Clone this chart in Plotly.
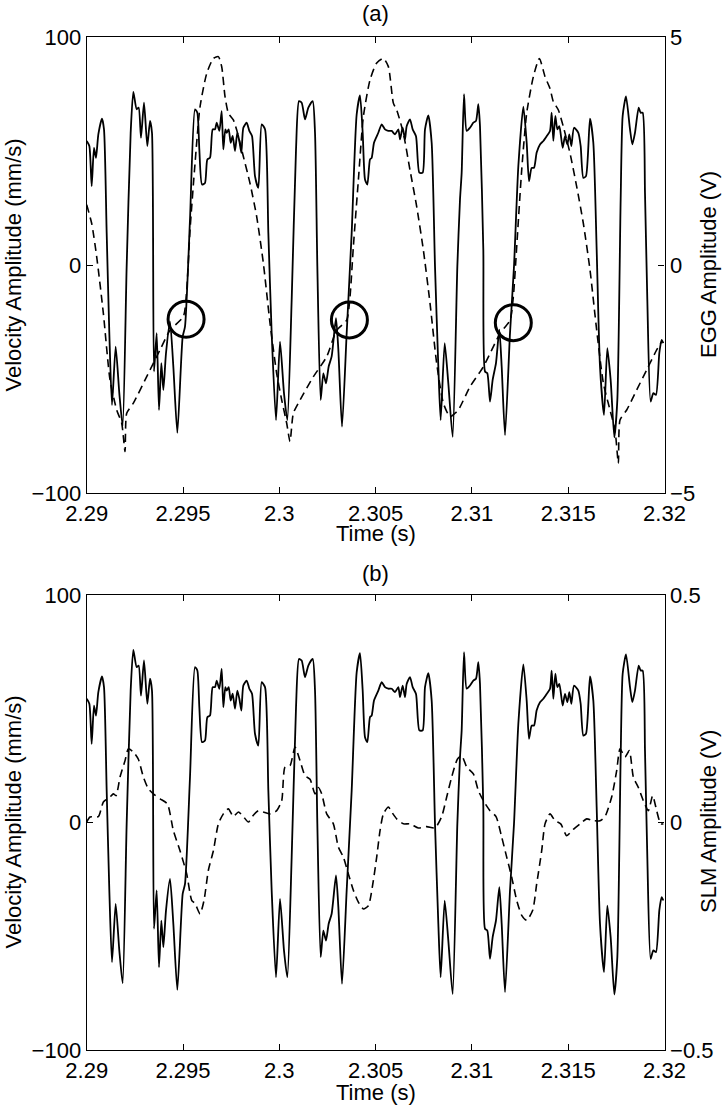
import plotly.graph_objects as go

# ---------------- data (time offsets in ms from 2.29 s) ----------------
T0 = 2.29

vel_t_ms = [
    0.000, 0.137, 0.258, 0.379, 0.483, 0.604, 0.794, 0.898, 1.037, 1.175,
    1.313, 1.504, 1.694, 1.867, 2.075, 2.283, 2.421, 2.594, 2.698, 2.819,
    2.975, 3.148, 3.287, 3.390, 3.494, 3.633, 3.754, 3.875, 3.979, 4.117,
    4.325, 4.498, 4.706, 4.983, 5.104, 5.363, 5.623, 5.744, 5.848, 5.987,
    6.142, 6.264, 6.402, 6.540, 6.662, 6.748, 6.887, 7.008, 7.094, 7.198,
    7.267, 7.371, 7.475, 7.579, 7.700, 7.821, 7.925, 8.029, 8.133, 8.306,
    8.444, 8.583, 8.738, 8.911, 9.085, 9.258, 9.431, 9.604, 9.829, 10.037,
    10.244, 10.417, 10.643, 10.868, 11.023, 11.162, 11.335, 11.508, 11.733, 11.854,
    11.975, 12.148, 12.287, 12.425, 12.564, 12.719, 12.944, 13.066, 13.256, 13.498,
    13.758, 14.017, 14.190, 14.329, 14.450, 14.571, 14.709, 14.796, 14.917, 15.141,
    15.315, 15.488, 15.661, 15.834, 16.007, 16.180, 16.267, 16.405, 16.527, 16.613,
    16.786, 16.925, 17.098, 17.271, 17.444, 17.565, 17.738, 17.911, 18.084, 18.257,
    18.378, 18.586, 18.776, 19.001, 19.244, 19.382, 19.469, 19.590, 19.728, 19.901,
    20.074, 20.213, 20.334, 20.420, 20.593, 20.680, 20.801, 20.940, 21.078, 21.251,
    21.424, 21.546, 21.719, 21.978, 22.186, 22.411, 22.671, 22.844, 22.965, 23.103,
    23.224, 23.363, 23.536, 23.709, 23.882, 24.055, 24.142, 24.228, 24.332, 24.436,
    24.540, 24.713, 24.834, 24.955, 25.059, 25.163, 25.301, 25.526, 25.647, 25.786,
    25.924, 26.132, 26.305, 26.478, 26.651, 26.859, 27.031, 27.204, 27.395, 27.551,
    27.724, 27.828, 28.001, 28.209, 28.330, 28.468, 28.659, 28.762, 28.866, 28.987,
    29.108, 29.281, 29.420, 29.558, 29.731, 29.852, 29.939,
]
vel_v = [
    54.4, 52.2, 34.6, 51.4, 47.0, 57.3, 64.2, 59.5, 14.1, -29.9,
    -61.4, -35.8, -56.3, -70.6, -0.6, 58.0, 75.9, 68.3, 69.0, 55.8,
    71.2, 52.2, 63.2, 58.0, -46.7, -29.9, -63.6, -43.1, -54.8, -38.7,
    -24.8, -44.5, -73.6, -31.4, -27.0, 19.9, 68.3, 66.8, 50.7, 35.3,
    36.0, 46.3, 47.0, 59.5, 59.5, 62.4, 58.8, 67.5, 50.7, 59.5,
    58.0, 59.5, 53.6, 56.6, 50.0, 58.0, 54.4, 49.2, 60.2, 62.4,
    58.8, 56.6, 39.0, 33.8, 61.7, 59.5, 14.1, -29.9, -68.0, -33.6,
    -56.3, -68.0, -15.2, 50.7, 71.9, 71.2, 63.9, 69.0, 71.9, 58.0,
    -0.6, -59.2, -47.5, -51.9, -44.5, -40.1, -23.3, -37.2, -70.9, -29.9,
    14.1, 66.0, 74.4, 58.0, 37.5, 35.3, 46.3, 47.0, 53.6, 58.0,
    61.7, 59.5, 58.8, 58.8, 57.3, 59.5, 55.1, 60.2, 55.1, 60.9,
    63.9, 59.5, 56.5, 40.5, 40.5, 59.5, 65.6, 53.6, -0.6, -44.5,
    -68.0, -34.3, -51.9, -75.4, -0.6, 28.7, 40.5, 74.9, 58.8, 60.2,
    62.4, 63.2, 70.5, 60.9, 6.7, -46.7, -47.5, -59.9, -50.4, -43.0,
    -28.4, -44.5, -74.6, -29.9, -0.6, 43.4, 69.5, 53.6, 36.8, 42.6,
    42.6, 49.3, 52.9, 54.4, 56.5, 58.8, 66.8, 54.4, 65.4, 59.5,
    60.9, 51.4, 56.5, 52.9, 57.3, 52.2, 60.2, 58.0, 52.2, 38.2,
    39.0, 64.2, 53.6, 6.7, -44.5, -65.8, -36.5, -50.4, -75.6, -59.2,
    28.7, 65.4, 73.9, 59.5, 52.9, 58.0, 69.0, 66.8, 66.8, 31.6,
    -15.2, -59.9, -56.2, -57.0, -38.6, -32.8, -34.3,
]

egg_t_ms = [
    0.000, 0.260, 0.519, 0.865, 1.211, 1.558, 1.817, 1.990, 2.077, 2.423,
    3.115, 3.808, 4.327, 5.019, 5.192, 5.365, 5.625, 5.884, 6.231, 6.577,
    6.836, 7.009, 7.182, 7.355, 7.615, 7.788, 8.134, 8.480, 8.826, 9.172,
    9.519, 9.865, 10.125, 10.384, 10.557, 10.730, 11.076, 11.768, 12.461, 12.980,
    13.499, 13.672, 13.845, 14.105, 14.364, 14.711, 15.057, 15.403, 15.663, 15.922,
    16.095, 16.441, 16.787, 17.134, 17.480, 17.826, 18.172, 18.518, 18.864, 19.124,
    19.297, 19.903, 20.595, 21.114, 21.461, 21.980, 22.153, 22.326, 22.585, 22.845,
    23.191, 23.503, 23.797, 24.056, 24.229, 24.489, 24.749, 25.095, 25.441, 25.787,
    26.133, 26.479, 26.825, 27.171, 27.431, 27.604, 27.690, 28.037, 28.556, 29.075,
    29.594, 29.854,
]
egg_v = [
    1.32, 0.91, 0.18, -1.06, -2.52, -3.18, -3.47, -4.09, -3.25, -3.03,
    -2.45, -1.86, -1.43, -1.13, -0.55, 0.77, 2.23, 3.47, 4.20, 4.53,
    4.57, 4.35, 3.69, 3.33, 3.18, 2.96, 2.38, 1.79, 1.06, 0.04,
    -1.28, -2.38, -2.96, -3.47, -3.87, -3.25, -2.96, -2.45, -2.01, -1.43,
    -1.21, -0.69, 0.40, 1.86, 3.25, 4.06, 4.43, 4.53, 4.35, 3.55,
    3.40, 2.89, 2.08, 1.28, 0.33, -0.84, -2.16, -3.03, -3.33, -3.25,
    -3.18, -2.67, -2.23, -1.79, -1.50, -1.21, -0.69, 0.40, 2.08, 3.33,
    4.13, 4.53, 4.13, 3.87, 3.58, 3.40, 3.03, 2.45, 1.72, 0.91,
    -0.11, -1.43, -2.59, -3.18, -3.62, -4.35, -3.40, -3.18, -2.74, -2.30,
    -1.86, -1.68,
]

slm_t_ms = [
    0.000, 0.173, 0.606, 0.865, 1.211, 1.384, 1.523, 1.731, 1.990, 2.163,
    2.423, 2.683, 2.942, 3.202, 3.461, 3.808, 4.188, 4.500, 4.846, 5.192,
    5.452, 5.625, 5.884, 6.092, 6.317, 6.577, 6.836, 7.096, 7.355, 7.615,
    7.875, 8.134, 8.394, 8.653, 8.913, 9.172, 9.519, 9.865, 10.125, 10.298,
    10.557, 10.817, 11.076, 11.336, 11.596, 11.855, 12.028, 12.201, 12.461, 12.807,
    13.066, 13.326, 13.586, 13.845, 14.105, 14.364, 14.624, 14.884, 15.057, 15.230,
    15.403, 15.663, 15.836, 16.095, 16.441, 16.787, 17.220, 17.653, 18.085, 18.431,
    18.691, 18.951, 19.245, 19.470, 19.730, 20.076, 20.335, 20.595, 20.941, 21.253,
    21.547, 21.807, 22.066, 22.326, 22.586, 22.845, 23.157, 23.364, 23.624, 23.797,
    24.056, 24.316, 24.611, 24.922, 25.268, 25.614, 25.960, 26.306, 26.652, 26.911,
    27.257, 27.517, 27.690, 27.950, 28.175, 28.382, 28.642, 28.902, 29.161, 29.386,
    29.593, 29.801, 29.940,
]
slm_v = [
    0.001, 0.012, 0.013, 0.045, 0.056, 0.063, 0.059, 0.100, 0.136, 0.162,
    0.155, 0.139, 0.100, 0.074, 0.063, 0.052, 0.041, -0.018, -0.062, -0.113,
    -0.171, -0.178, -0.201, -0.171, -0.105, -0.062, -0.003, 0.019, 0.030, 0.013,
    0.023, 0.013, 0.001, 0.016, 0.026, 0.023, 0.019, 0.026, 0.048, 0.122,
    0.125, 0.166, 0.136, 0.103, 0.095, 0.063, 0.077, 0.063, 0.019, -0.003,
    -0.054, -0.076, -0.113, -0.149, -0.175, -0.190, -0.183, -0.127, -0.076, -0.018,
    0.019, 0.034, 0.023, 0.008, -0.003, -0.003, -0.012, -0.009, -0.012, 0.013,
    0.056, 0.100, 0.139, 0.147, 0.122, 0.107, 0.070, 0.048, 0.026, 0.013,
    -0.032, -0.076, -0.120, -0.171, -0.204, -0.215, -0.193, -0.135, -0.062, -0.003,
    0.019, 0.004, -0.003, -0.029, -0.015, -0.003, 0.008, 0.004, 0.004, 0.013,
    0.056, 0.114, 0.162, 0.144, 0.158, 0.100, 0.077, 0.048, 0.026, 0.059,
    0.026, -0.003, -0.003,
]

# circled glottal-closure instants (panel a, velocity axis units)
circle_t = [2.29516, 2.30364, 2.31215]
circle_v = [-23.8, -24.1, -25.3]

x_tick_vals = [2.29, 2.295, 2.30, 2.305, 2.31, 2.315, 2.32]
x_tick_text = ["2.29", "2.295", "2.3", "2.305", "2.31", "2.315", "2.32"]
vel_ticks = [-100, 0, 100]
egg_ticks = [-5, 0, 5]
slm_ticks = [-0.5, 0, 0.5]

# ---------------- figure ----------------
W, H = 724, 1106
FONT = "Liberation Sans, Arial, Helvetica, sans-serif"
FS = 22

vel_t = [T0 + v / 1000.0 for v in vel_t_ms]
egg_t = [T0 + v / 1000.0 for v in egg_t_ms]
slm_t = [T0 + v / 1000.0 for v in slm_t_ms]

def fx(p):
    return p / W

def fy(p):
    return 1 - p / H

fig = go.Figure()
solid = dict(color="black", width=1.8, shape="spline", smoothing=0.6)
dashed = dict(color="black", width=1.6, dash="8px,5px", shape="spline", smoothing=0.6)

fig.add_trace(go.Scatter(x=vel_t, y=vel_v, mode="lines", line=solid, xaxis="x", yaxis="y"))
fig.add_trace(go.Scatter(x=egg_t, y=egg_v, mode="lines", line=dashed, xaxis="x", yaxis="y2"))
fig.add_trace(go.Scatter(x=circle_t, y=circle_v, mode="markers", xaxis="x", yaxis="y",
                         marker=dict(symbol="circle-open", size=36, color="black",
                                     line=dict(width=3, color="black"))))
fig.add_trace(go.Scatter(x=vel_t, y=vel_v, mode="lines", line=solid, xaxis="x2", yaxis="y3"))
fig.add_trace(go.Scatter(x=slm_t, y=slm_v, mode="lines", line=dashed, xaxis="x2", yaxis="y4"))

tickfont = dict(family=FONT, size=FS, color="black")
base = dict(showgrid=False, zeroline=False, showline=True, linecolor="black", linewidth=1.3,
            ticks="inside", ticklen=6, tickwidth=1.2, tickcolor="black", tickfont=tickfont,
            automargin=False)

xdom = [fx(86.7), fx(664.5)]
ydom_a = [fy(493), fy(37)]
ydom_b = [fy(1050), fy(595)]

fig.update_layout(
    width=W, height=H,
    margin=dict(l=0, r=0, t=0, b=0, autoexpand=False),
    paper_bgcolor="white", plot_bgcolor="white",
    showlegend=False,
    xaxis=dict(base, domain=xdom, anchor="y", range=[2.29, 2.32], tickvals=x_tick_vals,
               ticktext=x_tick_text, mirror="ticks"),
    yaxis=dict(base, domain=ydom_a, anchor="x", range=[-100, 100], tickvals=vel_ticks),
    yaxis2=dict(base, overlaying="y", side="right", anchor="x", range=[-5, 5], tickvals=egg_ticks),
    xaxis2=dict(base, domain=xdom, anchor="y3", range=[2.29, 2.32], tickvals=x_tick_vals,
                ticktext=x_tick_text, mirror="ticks"),
    yaxis3=dict(base, domain=ydom_b, anchor="x2", range=[-100, 100], tickvals=vel_ticks),
    yaxis4=dict(base, overlaying="y3", side="right", anchor="x2", range=[-0.5, 0.5],
                tickvals=slm_ticks),
)

tf = dict(family=FONT, size=FS, color="black")
xc = fx((86.7 + 664.5) / 2)
ann = [
    dict(text="(a)", x=xc, y=fy(14)),
    dict(text="(b)", x=xc, y=fy(573)),
    dict(text="Time (s)", x=xc, y=fy(534)),
    dict(text="Time (s)", x=xc, y=fy(1092)),
    dict(text="Velocity Amplitude (mm/s)", x=fx(12.5), y=fy(265), textangle=-90),
    dict(text="Velocity Amplitude (mm/s)", x=fx(12.5), y=fy(822), textangle=-90),
    dict(text="EGG Amplitude (V)", x=fx(708), y=fy(265), textangle=-90),
    dict(text="SLM Amplitude (V)", x=fx(708), y=fy(822), textangle=-90),
]
for a in ann:
    a.update(xref="paper", yref="paper", showarrow=False, font=tf,
             xanchor="center", yanchor="middle")
fig.update_layout(annotations=ann)

fig.write_html(
    "out.html",
    config={"displayModeBar": False},
    post_script="document.documentElement.style.margin='0';"
                "document.body.style.margin='0';document.body.style.padding='0';"
                "document.body.style.overflow='hidden';",
)
